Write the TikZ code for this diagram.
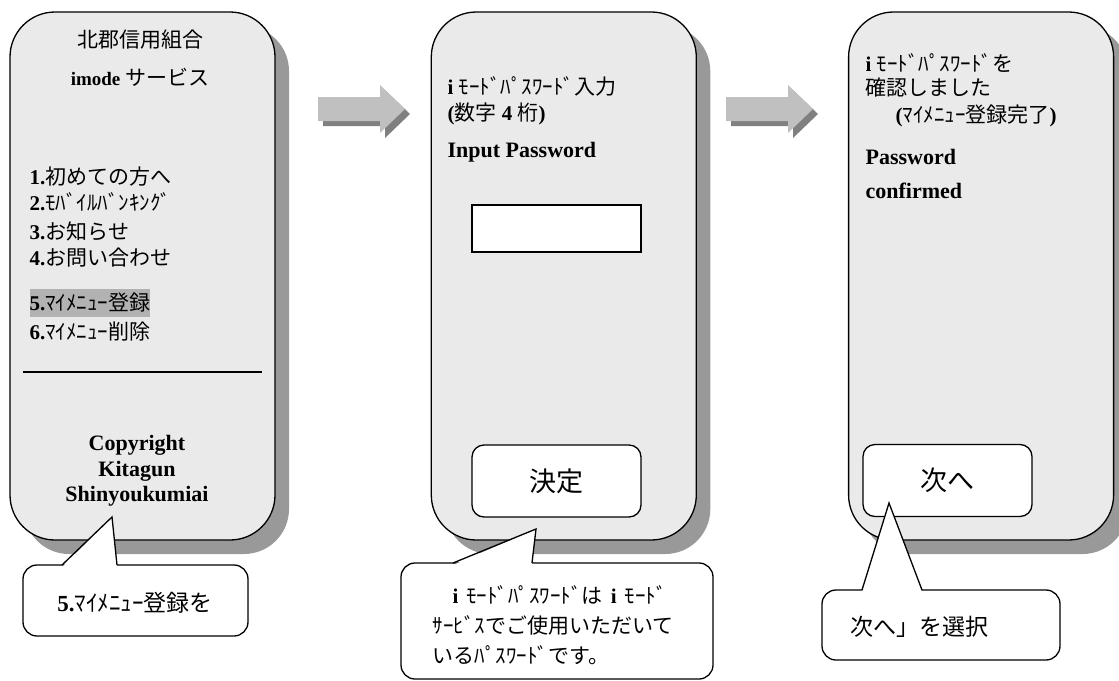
\documentclass[tikz,border=0pt]{standalone}
\usepackage{fontspec}
\setmainfont{Liberation Serif}
\newfontfamily\jpfont{Noto Sans CJK JP}
\newcommand{\jtext}[1]{{\mdseries\jpfont #1}}
\usetikzlibrary{positioning,shadows}

\definecolor{panelgray}{HTML}{EAEAEA}
\definecolor{shadowgray}{HTML}{999999}
\definecolor{arrowgray}{HTML}{C0C0C0}
\definecolor{arrowshade}{HTML}{808080}
\definecolor{markgray}{HTML}{B2B2B2}

\begin{document}
\begin{tikzpicture}[x=1pt,y=-1pt,line width=1.3pt,
    screen node/.style={draw,fill=panelgray,rounded corners=45pt,minimum width=265pt,minimum height=528pt,
      drop shadow={shadow xshift=14pt,shadow yshift=-14pt,fill=shadowgray,opacity=1}},
    text line/.style={anchor=west,inner sep=0pt,font=\fontsize{21}{25}\selectfont\bfseries},
    eng line/.style={anchor=west,inner sep=0pt,font=\fontsize{22}{25.5}\selectfont\bfseries},
    key node/.style={draw,fill=white,rounded corners=12pt,minimum width=169pt,minimum height=72pt,font=\fontsize{27}{30}\selectfont},
    note node/.style={draw,fill=white,rounded corners=14pt},
    tail fill/.style={fill=white},
    block arrow/.style={fill=arrowgray}]

  \useasboundingbox (0,0) rectangle (1119,680);

  \node[screen node]                  (scr1) at (142.5,276) {};
  \node[screen node]                  (scr2) [right=155pt of scr1] {};
  \node[screen node]                  (scr3) [right=151pt of scr2] {};

  \node[text line,anchor=center] (bank) at (140,40) {\jtext{北郡信用組合}};
  \node[text line,anchor=center,font=\fontsize{19}{22}\selectfont\bfseries] (svc) at (140,77)
        {imode \jtext{\fontsize{21}{24}\selectfont サービス}};
  \node[text line] (m1) at (29,177) {1.\jtext{初めての方へ}};
  \node[text line] (m2) at (29,202) {2.\jtext{ﾓﾊﾞｲﾙﾊﾞﾝｷﾝｸﾞ}};
  \node[text line] (m3) at (29,231) {3.\jtext{お知らせ}};
  \node[text line] (m4) at (29,258) {4.\jtext{お問い合わせ}};
  \node[text line,fill=markgray,minimum height=28pt] (m5) at (29,303) {5.\jtext{ﾏｲﾒﾆｭｰ登録}};
  \node[text line] (m6) at (29,332) {6.\jtext{ﾏｲﾒﾆｭｰ削除}};
  \draw (23,372) -- (262,372);
  \node[eng line,anchor=center,align=center] (copy) at (137,471) {Copyright\\Kitagun\\Shinyoukumiai};

  \node[text line] (pw) at (447,86) {i \jtext{ﾓｰﾄﾞﾊﾟｽﾜｰﾄﾞ入力}};
  \node[text line] (digits) at (447,114) {(\jtext{数字} 4 \jtext{桁})};
  \node[eng line] (inpw) at (447,152) {Input Password};
  \node[draw,fill=white,minimum width=169pt,minimum height=47pt] (field) at (556.5,228.5) {};
  \node[key node] (ok) at (556.5,481) {\jtext{決定}};

  \node[text line] (done1) at (865,63) {i \jtext{ﾓｰﾄﾞﾊﾟｽﾜｰﾄﾞを}};
  \node[text line] (done2) at (865,88) {\jtext{確認しました}};
  \node[text line] (done3) at (895,116) {(\jtext{ﾏｲﾒﾆｭｰ登録完了})};
  \node[eng line] (conf1) at (865,157) {Password};
  \node[eng line] (conf2) at (865,191) {confirmed};
  \node[key node] (next) at (947.5,480.5) {\jtext{次へ}};

  \foreach \ax in {318,726} {
    \fill[arrowshade] (\ax+5,102) -- ++(62,0) -- ++(0,-12) -- ++(25,24) -- ++(-25,24) -- ++(0,-12) -- ++(-62,0) -- cycle;
    \fill[block arrow] (\ax,97) -- ++(62,0) -- ++(0,-12) -- ++(25,24) -- ++(-25,24) -- ++(0,-12) -- ++(-62,0) -- cycle;
  }

  \node[note node,minimum width=225pt,minimum height=71pt] (note1) at (135.5,600.5) {};
  \coordinate (tip1) at (112,517);
  \fill[tail fill] (62,567) -- (tip1) -- (117,567) -- cycle;
  \draw (62,565) -- (tip1) -- (117,565);
  \node[text line,anchor=center,font=\fontsize{23}{26}\selectfont\bfseries] (say1) at (135,603) {5.\jtext{ﾏｲﾒﾆｭｰ登録を}};

  \node[note node,minimum width=312pt,minimum height=116pt] (note2) at (557,621) {};
  \coordinate (tip2) at (536,529);
  \fill[tail fill] (453,565) -- (tip2) -- (532,565) -- cycle;
  \draw (453,563) -- (tip2) -- (532,563);
  \node[text line] (say2a) at (452,595) {i\hspace{8pt}\jtext{ﾓｰﾄﾞﾊﾟｽﾜｰﾄﾞは}\hspace{8pt}i\hspace{8pt}\jtext{ﾓｰﾄﾞ}};
  \node[text line] (say2b) at (432,625) {\jtext{ｻｰﾋﾞｽでご使用いただいて}};
  \node[text line] (say2c) at (432,655) {\jtext{いるﾊﾟｽﾜｰﾄﾞです。}};

  \node[note node,minimum width=238pt,minimum height=70pt] (note3) at (941,625) {};
  \coordinate (tip3) at (889,503);
  \fill[tail fill] (862,592) -- (tip3) -- (922,592) -- cycle;
  \draw (862,590) -- (tip3) -- (922,590);
  \node[text line,font=\fontsize{23}{26}\selectfont] (say3) at (850,627) {\jtext{次へ」を選択}};
\end{tikzpicture}
\end{document}
